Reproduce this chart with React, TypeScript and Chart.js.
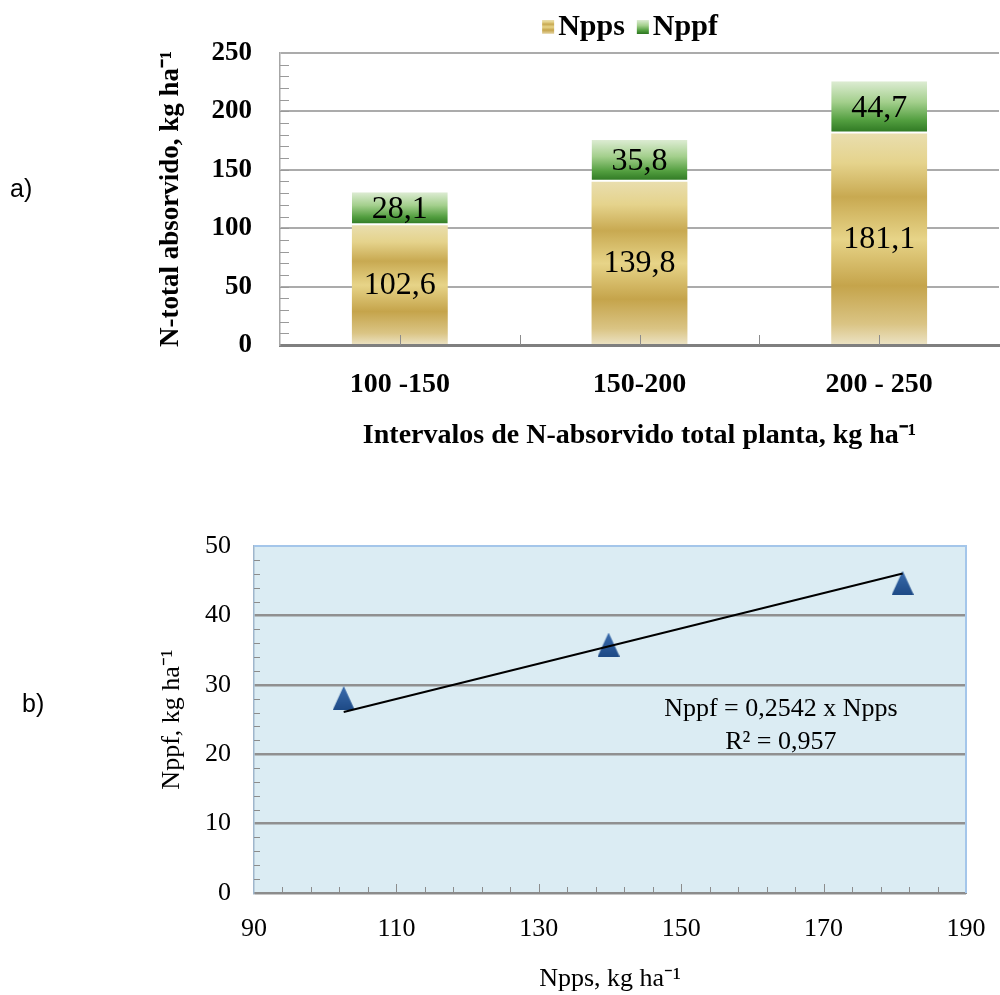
import React, { useEffect, useRef } from 'react';
import { Chart, registerables } from 'chart.js';

Chart.register(...registerables);

// ---------- data ----------
const categories = ['100 -150', '150-200', '200 - 250'];
const nppsValues = [102.6, 139.8, 181.1];
const nppfValues = [28.1, 35.8, 44.7];
const seriesNames = ['Npps', 'Nppf'];

const trendX = [102.6, 181.1];
const trendY = [26.08, 46.04];
const equationLines = ['Nppf = 0,2542 x Npps', 'R² = 0,957'];
const equationAnchorX = 164;
const equationAnchorY = [26.5, 21.8];

// ---------- styles ----------
const SERIF = '"Liberation Serif", "Times New Roman", serif';
const goldStops: [number, string][] = [
  [0, '#E9DEAE'], [0.14, '#E5D38C'], [0.3, '#C8A951'], [0.5, '#E7D488'],
  [0.72, '#C5A44B'], [0.9, '#DAC484'], [1, '#ECE3C5'],
];
const greenStops: [number, string][] = [
  [0, '#DDECD3'], [0.4, '#A3CF8C'], [0.75, '#529E3F'], [1, '#2B7420'],
];

function makeGradient(ctx: CanvasRenderingContext2D, y0: number, y1: number, stops: [number, string][]) {
  const g = ctx.createLinearGradient(0, y0, 0, y1);
  stops.forEach(([p, c]) => g.addColorStop(p, c));
  return g;
}

function fmt(v: number) {
  return v.toFixed(1).replace('.', ',');
}

const barExtras = {
  id: 'barExtras',
  afterDatasetsDraw(chart: any) {
    const ctx: CanvasRenderingContext2D = chart.ctx;
    const { left, bottom } = chart.chartArea;
    const y = chart.scales.y;
    const x = chart.scales.x;
    ctx.save();
    // inward minor ticks on the left axis
    ctx.strokeStyle = '#9A9A9A';
    ctx.lineWidth = 1;
    for (let v = 10; v < 250; v += 10) {
      const py = Math.round(y.getPixelForValue(v)) + 0.5;
      ctx.beginPath();
      ctx.moveTo(left, py);
      ctx.lineTo(left + 9, py);
      ctx.stroke();
    }
    // inward ticks on the bottom axis
    ctx.strokeStyle = '#8C8C8C';
    const xs: number[] = [];
    for (let i = 0; i < categories.length; i++) {
      xs.push(x.getPixelForValue(i));
      if (i < categories.length - 1) xs.push((x.getPixelForValue(i) + x.getPixelForValue(i + 1)) / 2);
    }
    xs.forEach((px) => {
      ctx.beginPath();
      ctx.moveTo(Math.round(px) + 0.5, bottom - 10);
      ctx.lineTo(Math.round(px) + 0.5, bottom);
      ctx.stroke();
    });
    // value labels
    ctx.fillStyle = '#000';
    ctx.font = `32px ${SERIF}`;
    ctx.textAlign = 'center';
    ctx.textBaseline = 'middle';
    chart.data.datasets.forEach((ds: any, di: number) => {
      const meta = chart.getDatasetMeta(di);
      meta.data.forEach((el: any, i: number) => {
        const p = el.getProps(['x', 'y', 'base'], true);
        ctx.fillText(fmt(ds.data[i]), p.x, (p.y + p.base) / 2 + 1);
      });
    });
    ctx.restore();
  },
  afterDraw(chart: any) {
    const ctx: CanvasRenderingContext2D = chart.ctx;
    ctx.save();
    ctx.font = `bold 30px ${SERIF}`;
    ctx.textBaseline = 'middle';
    ctx.textAlign = 'left';
    const box = 12;
    const gap = 4;
    const itemGap = 12;
    const widths = seriesNames.map((n) => ctx.measureText(n).width);
    const total = widths.reduce((a, w) => a + box + gap + w, 0) + itemGap * (seriesNames.length - 1);
    let cx = 630 - total / 2;
    const cy = 27;
    seriesNames.forEach((n, i) => {
      ctx.fillStyle = makeGradient(ctx, cy - 7, cy + 7, i === 0 ? goldStops : greenStops);
      ctx.fillRect(cx, cy - 7, box, 14);
      cx += box + gap;
      ctx.fillStyle = '#000';
      ctx.fillText(n, cx, cy);
      cx += widths[i] + itemGap;
    });
    ctx.restore();
  },
};

const scatterExtras = {
  id: 'scatterExtras',
  beforeDraw(chart: any) {
    const ctx: CanvasRenderingContext2D = chart.ctx;
    const { left, top, right, bottom } = chart.chartArea;
    ctx.save();
    ctx.fillStyle = '#DBECF3';
    ctx.fillRect(left, top, right - left, bottom - top);
    ctx.restore();
  },
  beforeDatasetsDraw(chart: any) {
    const ctx: CanvasRenderingContext2D = chart.ctx;
    const { left, top, right, bottom } = chart.chartArea;
    const x = chart.scales.x;
    const y = chart.scales.y;
    ctx.save();
    ctx.strokeStyle = '#A4C6EA';
    ctx.lineWidth = 2;
    ctx.beginPath();
    ctx.moveTo(left, top);
    ctx.lineTo(right, top);
    ctx.lineTo(right, bottom);
    ctx.stroke();
    ctx.strokeStyle = '#8C8C8C';
    ctx.lineWidth = 1;
    for (let v = 2; v < 50; v += 2) {
      if (v % 10 === 0) continue;
      const py = Math.round(y.getPixelForValue(v)) + 0.5;
      ctx.beginPath();
      ctx.moveTo(left, py);
      ctx.lineTo(left + 6, py);
      ctx.stroke();
    }
    for (let v = 94; v < 190; v += 4) {
      const px = Math.round(x.getPixelForValue(v)) + 0.5;
      const len = (v - 90) % 20 === 0 ? 9 : 6;
      ctx.beginPath();
      ctx.moveTo(px, bottom);
      ctx.lineTo(px, bottom - len);
      ctx.stroke();
    }
    ctx.restore();
  },
  afterDatasetsDraw(chart: any) {
    const ctx: CanvasRenderingContext2D = chart.ctx;
    const x = chart.scales.x;
    const y = chart.scales.y;
    ctx.save();
    ctx.fillStyle = '#000';
    ctx.font = `26px ${SERIF}`;
    ctx.textAlign = 'center';
    ctx.textBaseline = 'middle';
    equationLines.forEach((t, i) => {
      ctx.fillText(t, x.getPixelForValue(equationAnchorX), y.getPixelForValue(equationAnchorY[i]));
    });
    ctx.restore();
  },
};

function makeTriangle(): HTMLCanvasElement {
  const c = document.createElement('canvas');
  c.width = 22;
  c.height = 24;
  const g = c.getContext('2d')!;
  const grad = g.createLinearGradient(0, 0, 0, 24);
  grad.addColorStop(0, '#3A6CAD');
  grad.addColorStop(1, '#1E4A86');
  g.fillStyle = grad;
  g.beginPath();
  g.moveTo(11, 0);
  g.lineTo(22, 24);
  g.lineTo(0, 24);
  g.closePath();
  g.fill();
  return c;
}

export default function App() {
  const refA = useRef<HTMLCanvasElement>(null);
  const refB = useRef<HTMLCanvasElement>(null);

  useEffect(() => {
    const chartA = new Chart(refA.current!, {
      type: 'bar',
      data: {
        labels: categories,
        datasets: [
          {
            label: seriesNames[0],
            data: nppsValues,
            backgroundColor: (c: any) => {
              const ch = c.chart;
              if (!ch.chartArea || c.type !== 'data') return '#D8BE6A';
              const ys = ch.scales.y;
              const v = nppsValues[c.dataIndex];
              return makeGradient(ch.ctx, ys.getPixelForValue(v), ys.getPixelForValue(0), goldStops);
            },
            borderWidth: 0,
            barPercentage: 0.4,
            categoryPercentage: 1,
          },
          {
            label: seriesNames[1],
            data: nppfValues,
            backgroundColor: (c: any) => {
              const ch = c.chart;
              if (!ch.chartArea || c.type !== 'data') return '#5FA64A';
              const ys = ch.scales.y;
              const b = nppsValues[c.dataIndex];
              const v = nppfValues[c.dataIndex];
              return makeGradient(ch.ctx, ys.getPixelForValue(b + v), ys.getPixelForValue(b), greenStops);
            },
            borderColor: '#FFFFFF',
            borderWidth: { top: 0, left: 0, right: 0, bottom: 2 },
            borderSkipped: false,
            barPercentage: 0.4,
            categoryPercentage: 1,
          },
        ],
      },
      options: {
        responsive: false,
        animation: false,
        layout: { padding: { left: 155, right: 1, top: 53, bottom: 0 } },
        plugins: { legend: { display: false }, tooltip: { enabled: false } },
        scales: {
          x: {
            stacked: true,
            grid: { display: false },
            border: { color: '#7F7F7F', width: 3 },
            ticks: { color: '#000', font: { family: SERIF, size: 28, weight: 'bold' }, padding: 15 },
            title: {
              display: true,
              text: 'Intervalos de N-absorvido total planta, kg ha⁻¹',
              color: '#000',
              font: { family: SERIF, size: 28, weight: 'bold' },
              padding: { top: 0, bottom: 17 },
            },
            afterFit: (s: any) => { s.height = 125; },
          },
          y: {
            stacked: true,
            min: 0,
            max: 250,
            ticks: { stepSize: 50, color: '#000', font: { family: SERIF, size: 27, weight: 'bold' }, padding: 28 },
            grid: { color: '#ABABAB', lineWidth: 2, drawTicks: false },
            border: { color: '#A6A6A6', width: 1.5 },
            title: {
              display: true,
              text: 'N-total absorvido, kg ha⁻¹',
              color: '#000',
              font: { family: SERIF, size: 27, weight: 'bold' },
              padding: { top: 0, bottom: 0 },
            },
            afterFit: (s: any) => { s.width = 125; },
          },
        },
      } as any,
      plugins: [barExtras],
    });

    const tri = makeTriangle();
    const chartB = new Chart(refB.current!, {
      type: 'scatter',
      data: {
        datasets: [
          {
            label: 'trend',
            data: trendX.map((xv, i) => ({ x: xv, y: trendY[i] })),
            showLine: true,
            borderColor: '#000000',
            borderWidth: 2,
            pointRadius: 0,
          },
          {
            label: 'Nppf vs Npps',
            data: nppsValues.map((xv, i) => ({ x: xv, y: nppfValues[i] })),
            pointStyle: tri,
            pointRadius: 12,
          },
        ],
      },
      options: {
        responsive: false,
        animation: false,
        layout: { padding: { left: 157, right: 34, top: 76, bottom: 0 } },
        plugins: { legend: { display: false }, tooltip: { enabled: false } },
        scales: {
          x: {
            type: 'linear',
            min: 90,
            max: 190,
            ticks: { stepSize: 20, color: '#000', font: { family: SERIF, size: 26 }, padding: 13 },
            grid: { display: false },
            border: { color: '#8C8C8C', width: 2 },
            title: {
              display: true,
              text: 'Npps, kg ha⁻¹',
              color: '#000',
              font: { family: SERIF, size: 26 },
              padding: { top: 0, bottom: 0 },
            },
            afterFit: (s: any) => { s.height = 102; },
          },
          y: {
            min: 0,
            max: 50,
            ticks: { stepSize: 10, color: '#000', font: { family: SERIF, size: 26 }, padding: 23 },
            grid: {
              color: (c: any) => (c.tick && c.tick.value === 50 ? 'rgba(0,0,0,0)' : '#909090'),
              lineWidth: 2.5,
              drawTicks: false,
            },
            border: { color: '#9FB6CC', width: 1.5 },
            title: {
              display: true,
              text: 'Nppf, kg ha⁻¹',
              color: '#000',
              font: { family: SERIF, size: 26 },
              padding: { top: 0, bottom: 0 },
            },
            afterFit: (s: any) => { s.width = 97; },
          },
        },
      } as any,
      plugins: [scatterExtras],
    });

    return () => {
      chartA.destroy();
      chartB.destroy();
    };
  }, []);

  const panelLabel: React.CSSProperties = {
    position: 'absolute',
    fontFamily: '"Liberation Sans", "Open Sans", sans-serif',
    fontSize: 25,
    lineHeight: '30px',
    color: '#000',
  };

  return (
    <div style={{ position: 'absolute', left: 0, top: 0, width: 1000, height: 995, background: '#FFFFFF', overflow: 'hidden' }}>
      <canvas ref={refA} width={1000} height={470} style={{ position: 'absolute', left: 0, top: 0 }} />
      <canvas ref={refB} width={1000} height={525} style={{ position: 'absolute', left: 0, top: 470 }} />
      <div style={{ ...panelLabel, left: 10, top: 173 }}>a)</div>
      <div style={{ ...panelLabel, left: 22, top: 688 }}>b)</div>
    </div>
  );
}
